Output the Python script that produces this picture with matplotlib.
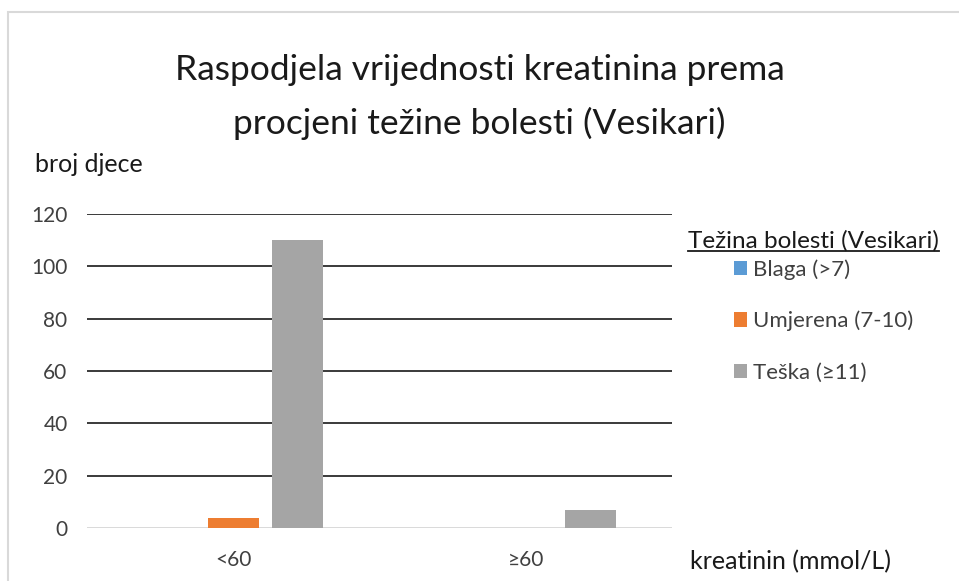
import matplotlib
matplotlib.use('Agg')
import matplotlib.pyplot as plt
from matplotlib.patches import Rectangle, Patch
from matplotlib.lines import Line2D
import numpy as np

plt.rcParams['font.family'] = ['Lato', 'DejaVu Sans']

categories = ['<60', '≥60']
series_names = ['Blaga (>7)', 'Umjerena (7-10)', 'Teška (≥11)']
blaga = [0, 0]
umjerena = [4, 0]
teska = [110, 7]
colors = ['#5B9BD5', '#ED7D31', '#A5A5A5']
yticks = [0, 20, 40, 60, 80, 100, 120]

W, H = 959, 581
fig = plt.figure(figsize=(W / 100, H / 100), dpi=100)

# chart frame
fig.patches.append(Rectangle((8 / W, -0.1), 1.2, 1 - 12 / H + 0.1, transform=fig.transFigure,
                             fill=False, edgecolor='#d9d9d9', linewidth=1.5))

ax = fig.add_axes([87 / W, 1 - 528 / H, (672 - 87) / W, (528 - 214) / H])

x = np.arange(len(categories))
offset = 0.22
width = 0.175
for i, (vals, name) in enumerate(zip([blaga, umjerena, teska], series_names)):
    ax.bar(x + (i - 1) * offset, vals, width, color=colors[i], label=name, zorder=3)

ax.set_xlim(-0.5, 1.5)
ax.set_ylim(0, 120)
ax.set_yticks(yticks)
ax.set_xticks(x)
ax.set_xticklabels(categories)
ax.tick_params(axis='both', length=0, labelsize=15, colors='#404040')
ax.tick_params(axis='x', pad=16)
ax.tick_params(axis='y', pad=14)
for s in ax.spines.values():
    s.set_visible(False)
ax.grid(axis='y', color='#3a3a3a', linewidth=1.4, zorder=1)
ax.get_ygridlines()[0].set_visible(False)
ax.axhline(0, color='#d9d9d9', linewidth=1.4, zorder=2)

fig.text(0.5, 1 - 70 / H, 'Raspodjela vrijednosti kreatinina prema', ha='center', va='center',
         fontsize=25.5, color='#1a1a1a')
fig.text(0.5, 1 - 123 / H, 'procjeni težine bolesti (Vesikari)', ha='center', va='center',
         fontsize=25.5, color='#1a1a1a')
fig.text(35 / W, 1 - 165 / H, 'broj djece', ha='left', va='center', fontsize=18, color='#1a1a1a')
fig.text(690 / W, 1 - 562 / H, 'kreatinin (mmol/L)', ha='left', va='center', fontsize=18, color='#1a1a1a')

lt = fig.text(688 / W, 1 - 241 / H, 'Težina bolesti (Vesikari)', ha='left', va='center',
              fontsize=17.5, color='#1a1a1a')
fig.canvas.draw()
bb = lt.get_window_extent().transformed(fig.transFigure.inverted())
fig.lines.append(Line2D([bb.x0, bb.x1], [bb.y0 + 1 / H, bb.y0 + 1 / H], transform=fig.transFigure,
                        color='#1a1a1a', linewidth=1.3))

handles = [Patch(facecolor=c, edgecolor='none') for c in colors]
fig.legend(handles, series_names, loc='upper left', bbox_to_anchor=(734 / W, 1 - 259 / H),
           frameon=False, fontsize=16, handlelength=0.6, handleheight=0.6, handletextpad=0.25,
           labelspacing=1.4, labelcolor='#404040', borderaxespad=0, borderpad=0)

fig.savefig('out.png', dpi=100)
